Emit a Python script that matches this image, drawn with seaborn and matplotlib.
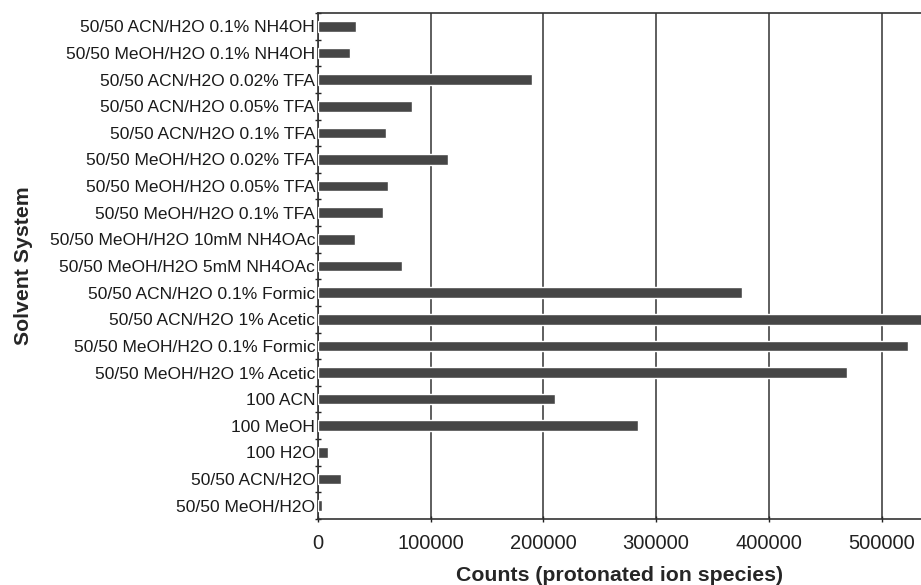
import numpy as np
import pandas as pd
import matplotlib
matplotlib.use('Agg')
import matplotlib.pyplot as plt
import seaborn as sns
from matplotlib.ticker import FixedLocator

# Solvent systems, top to bottom
solvents = [
    '50/50 ACN/H2O 0.1% NH4OH',
    '50/50 MeOH/H2O 0.1% NH4OH',
    '50/50 ACN/H2O 0.02% TFA',
    '50/50 ACN/H2O 0.05% TFA',
    '50/50 ACN/H2O 0.1% TFA',
    '50/50 MeOH/H2O 0.02% TFA',
    '50/50 MeOH/H2O 0.05% TFA',
    '50/50 MeOH/H2O 0.1% TFA',
    '50/50 MeOH/H2O 10mM NH4OAc',
    '50/50 MeOH/H2O 5mM NH4OAc',
    '50/50 ACN/H2O 0.1% Formic',
    '50/50 ACN/H2O 1% Acetic',
    '50/50 MeOH/H2O 0.1% Formic',
    '50/50 MeOH/H2O 1% Acetic',
    '100 ACN',
    '100 MeOH',
    '100 H2O',
    '50/50 ACN/H2O',
    '50/50 MeOH/H2O',
]
counts = [33700, 28400, 189900, 83400, 60300, 115400, 62100, 57700, 32800, 74200,
          376200, 545000, 523500, 469400, 210300, 283900, 8900, 20100, 3500]
x_ticks = [0, 100000, 200000, 300000, 400000, 500000]

df = pd.DataFrame({'solvent': solvents, 'counts': counts})

sns.set_style('white')
plt.rcParams['font.family'] = ['Liberation Sans', 'DejaVu Sans']

fig = plt.figure(figsize=(9.21, 5.85), dpi=100)
ax = fig.add_axes([318 / 921, 1 - 519 / 585, 1 - 318 / 921, (519 - 13) / 585])

sns.barplot(data=df, x='counts', y='solvent', order=solvents, color='#464646',
            saturation=1, width=0.4, ax=ax, zorder=3)

ax.set_xlim(0, 535000)
ax.set_xticks(x_ticks)
ax.set_xticklabels([str(t) for t in x_ticks], fontsize=14.5, color='#222222')
ax.xaxis.grid(True, color='#333333', linewidth=1.1, zorder=0)
ax.yaxis.grid(False)

# category boundary ticks on the y axis
ax.yaxis.set_minor_locator(FixedLocator(np.arange(-0.5, len(solvents), 1.0)))
ax.tick_params(axis='y', which='major', length=0, labelsize=12.5, labelcolor='#1a1a1a', pad=2)
ax.tick_params(axis='y', which='minor', direction='inout', length=5, width=1, color='#222222', left=True)
ax.tick_params(axis='x', which='major', direction='inout', length=5, width=1, color='#222222', bottom=True, pad=8)

for side in ['left', 'top', 'bottom']:
    ax.spines[side].set_visible(True)
    ax.spines[side].set_color('#333333')
    ax.spines[side].set_linewidth(1.2)
ax.spines['right'].set_visible(False)

ax.set_xlabel('Counts (protonated ion species)', fontsize=15.3, fontweight='bold', labelpad=10)
ax.set_ylabel('Solvent System', fontsize=15.3, fontweight='bold', labelpad=12)

fig.savefig('out.png', dpi=100)
